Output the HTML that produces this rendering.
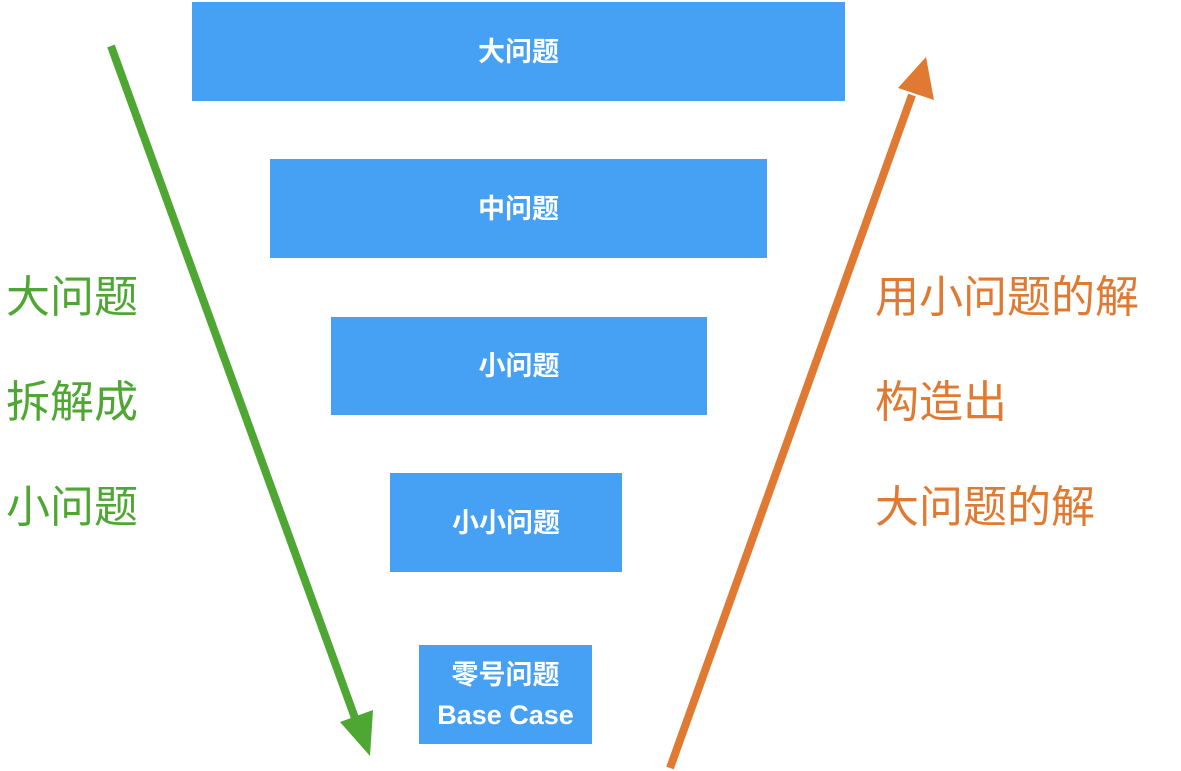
<!DOCTYPE html>
<html><head><meta charset="utf-8"><style>
body{margin:0;width:1181px;height:771px;background:#fff;position:relative;overflow:hidden;font-family:"Liberation Sans","Noto Sans CJK SC",sans-serif}
.b{position:absolute;background:#46a1f5;color:#fff;font-weight:bold;font-size:27px;display:flex;align-items:center;justify-content:center;text-align:center;line-height:40px}
.t{position:absolute;font-size:44px;line-height:105px}
</style></head><body>
<div class="b" style="left:192px;top:2px;width:653px;height:99px">大问题</div>
<div class="b" style="left:270px;top:159px;width:497px;height:99px">中问题</div>
<div class="b" style="left:331px;top:317px;width:376px;height:98px">小问题</div>
<div class="b" style="left:390px;top:473px;width:232px;height:99px">小小问题</div>
<div class="b" style="left:419px;top:645px;width:173px;height:99px;line-height:40px">零号问题<br>Base Case</div>
<div class="t" style="left:6px;top:245px;color:#4fa733">大问题<br>拆解成<br>小问题</div>
<div class="t" style="left:875px;top:245px;color:#e07a32">用小问题的解<br>构造出<br>大问题的解</div>
<svg width="1181" height="771" style="position:absolute;left:0;top:0">
<line x1="111" y1="46" x2="355" y2="718" stroke="#4fa733" stroke-width="8"/>
<polygon points="370,756 340,722 373,710" fill="#4fa733"/>
<line x1="670" y1="768" x2="912" y2="95" stroke="#e07a32" stroke-width="8"/>
<polygon points="926,57 934,100 898,88" fill="#e07a32"/>
</svg>
</body></html>
